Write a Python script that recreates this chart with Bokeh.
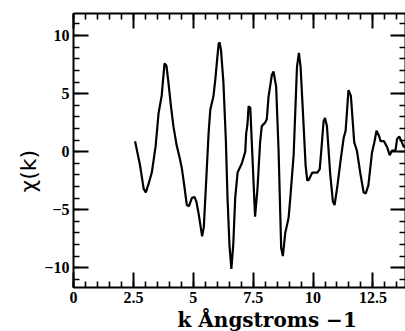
import math
from bokeh.plotting import figure
from bokeh.models import LinearAxis, FixedTicker, Range1d, Title
from bokeh.embed import file_html
from bokeh.resources import INLINE

# ---- data ----
k_vals = [2.57, 2.78, 2.93, 3.02, 3.13, 3.27, 3.43, 3.55, 3.68, 3.80,
          3.88, 3.95, 4.07, 4.17, 4.31, 4.43, 4.52, 4.63, 4.73, 4.82,
          4.94, 5.05, 5.13, 5.22, 5.37, 5.44, 5.54, 5.64, 5.71, 5.84,
          5.92, 5.99, 6.06, 6.10, 6.16, 6.26, 6.36, 6.43, 6.51, 6.59,
          6.67, 6.75, 6.85, 7.03, 7.17, 7.21, 7.26, 7.31, 7.38, 7.45,
          7.58, 7.68, 7.79, 7.86, 8.00, 8.07, 8.14, 8.28, 8.35, 8.46,
          8.56, 8.67, 8.74, 8.84, 8.98, 9.05, 9.19, 9.33, 9.41, 9.48,
          9.55, 9.62, 9.69, 9.76, 9.83, 9.97, 10.18, 10.28, 10.36, 10.44,
          10.50, 10.58, 10.72, 10.83, 10.90, 11.02, 11.16, 11.28, 11.36, 11.48,
          11.58, 11.72, 11.83, 11.97, 12.11, 12.20, 12.31, 12.46, 12.56, 12.65,
          12.75, 12.82, 12.96, 13.09, 13.20, 13.30, 13.44, 13.51, 13.60, 13.71,
          13.79, 13.87]

chi_vals = [0.9, -1.2, -3.2, -3.5, -2.8, -1.8, 0.5, 3.3, 4.8, 7.6,
            7.4, 6.2, 3.9, 2.2, 0.5, -0.5, -1.4, -3.0, -4.6, -4.7,
            -4.0, -3.9, -4.3, -5.3, -7.3, -6.5, -2.5, 1.6, 3.6, 4.75,
            6.2, 7.8, 9.3, 9.4, 8.7, 5.9, 1.0, -4.0, -8.0, -10.1,
            -8.0, -4.0, -1.8, -1.0, 0.0, 1.6, 2.3, 3.9, 3.8, 0.5,
            -5.6, -3.2, 0.8, 2.2, 2.5, 2.8, 4.7, 6.6, 6.9, 5.6,
            0.2, -8.3, -9.0, -7.0, -5.7, -4.0, -0.3, 7.3, 8.5, 7.3,
            4.5, 1.7, -1.2, -2.5, -2.4, -1.8, -1.8, -1.5, 0.5, 2.6,
            2.9, 2.2, -2.0, -4.3, -4.6, -2.9, -0.6, 1.2, 1.8, 5.3,
            4.8, 0.8, 0.1, -1.8, -3.5, -3.6, -2.9, -0.1, 0.8, 1.8,
            1.4, 0.9, 0.9, 0.4, -0.3, 0.1, 0.1, 1.1, 1.3, 0.8,
            0.4, 0.5]

x_ticks = [0, 2.5, 5, 7.5, 10, 12.5]
x_tick_labels = ["0", "2.5", "5", "7.5", "10", "12.5"]
x_minor = [i * 0.5 for i in range(0, 29)]
y_ticks = [-10, -5, 0, 5, 10]
y_tick_labels = ["\u221210", "\u22125", "0", "5", "10"]
y_minor = list(range(-12, 13))

x_title = "k \u00c5ngstroms  \u22121"
y_title = "\u03c7(k)"

p = figure(width=405, height=331, output_backend="svg", toolbar_location=None,
           x_range=Range1d(0, 13.86), y_range=Range1d(-11.7, 11.9),
           min_border_left=73, min_border_right=0, min_border_top=13,
           min_border_bottom=41, x_axis_location=None, y_axis_location=None)
p.outline_line_color = None
p.xgrid.grid_line_color = None
p.ygrid.grid_line_color = None


def make_axis(ticks, minor, labels, show):
    ax = LinearAxis(ticker=FixedTicker(ticks=ticks, minor_ticks=minor))
    ax.axis_line_width = 2
    ax.major_tick_line_width = 2
    ax.minor_tick_line_width = 1.6
    ax.major_tick_in = 15
    ax.major_tick_out = 0
    ax.minor_tick_in = 6
    ax.minor_tick_out = 0
    if show:
        ax.major_label_overrides = {t: l for t, l in zip(ticks, labels)}
        ax.major_label_text_font = "Liberation Serif"
        ax.major_label_text_font_style = "bold"
        ax.major_label_text_font_size = "16px"
        ax.major_label_text_color = "black"
        ax.major_label_standoff = 4
    else:
        ax.major_label_overrides = {t: "" for t in ticks}
        ax.major_label_text_font_size = "0px"
        ax.major_label_standoff = 0
    return ax


p.add_layout(make_axis(x_ticks, x_minor, x_tick_labels, True), "below")
p.add_layout(make_axis(x_ticks, x_minor, x_tick_labels, False), "above")
p.add_layout(make_axis(y_ticks, y_minor, y_tick_labels, True), "left")
p.add_layout(make_axis(y_ticks, y_minor, y_tick_labels, False), "right")

p.add_layout(Title(text=x_title, align="left", offset=104, standoff=0,
                   text_font="DejaVu Serif", text_font_style="bold",
                   text_font_size="20px", text_color="black"), "below")
p.add_layout(Title(text=y_title, align="left", offset=95, standoff=2,
                   text_font="DejaVu Sans", text_font_style="normal",
                   text_font_size="22px", text_color="black"), "left")

p.line(k_vals, chi_vals, line_color="black", line_width=2.2)

open("out.html", "w").write(file_html(p, INLINE))
